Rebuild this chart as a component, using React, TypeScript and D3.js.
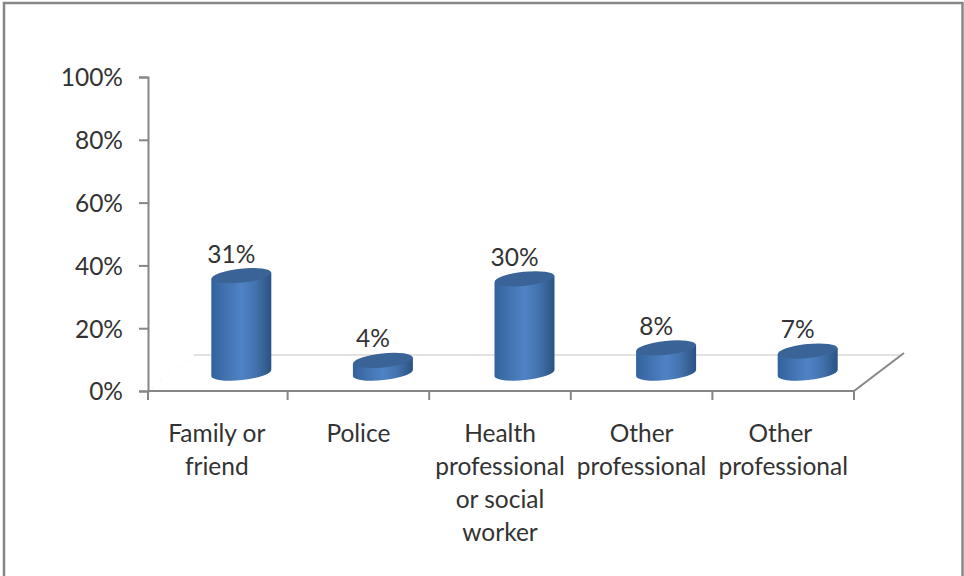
import React, { useEffect, useRef } from 'react';
import * as d3 from 'd3';

const CATEGORIES: string[][] = [
  ['Family or', 'friend'],
  ['Police'],
  ['Health', 'professional', 'or social', 'worker'],
  ['Other', 'professional'],
  ['Other ', 'professional'],
];
const VALUES = [0.31, 0.04, 0.3, 0.08, 0.07];
const Y_TICKS = [0, 0.2, 0.4, 0.6, 0.8, 1];

const WIDTH = 964;
const HEIGHT = 576;
const FONT = 'Lato, "Open Sans", sans-serif';
const AXIS = '#868686';
const TEXT = '#333333';
const FONT_SIZE = 24.5;

const App: React.FC = () => {
  const chartRef = useRef<SVGSVGElement>(null);

  useEffect(() => {
    if (!chartRef.current) return;

    // Clear previous render
    d3.select(chartRef.current).selectAll('*').remove();
    const svg = d3.select(chartRef.current);

    const x = d3.scaleBand<number>().domain(d3.range(VALUES.length)).range([146, 854]);
    const y = d3.scaleLinear().domain([0, 1]).range([391, 77]);

    // Cylinder gradient
    const grad = svg.append('defs').append('linearGradient').attr('id', 'cyl');
    [
      ['0%', '#33639c'],
      ['25%', '#4373b0'],
      ['50%', '#4f83c6'],
      ['72%', '#4474b0'],
      ['100%', '#2a5383'],
    ].forEach(([offset, color]) => {
      grad.append('stop').attr('offset', offset).attr('stop-color', color);
    });

    // Frame
    svg.append('rect')
      .attr('x', 4).attr('y', 3)
      .attr('width', 958.5).attr('height', 600)
      .attr('fill', '#fff')
      .attr('stroke', AXIS).attr('stroke-width', 2.5);

    // Floor of the 3D plot
    const axisX = 148;
    const x1 = x.range()[1];
    const depthX = 46;
    const depthY = -36;
    svg.append('line')
      .attr('x1', axisX + depthX).attr('x2', x1 + depthX)
      .attr('y1', y(0) + depthY).attr('y2', y(0) + depthY)
      .attr('stroke', '#d9d9d9').attr('stroke-width', 1.5);
    svg.append('line')
      .attr('x1', axisX + 4).attr('x2', axisX + depthX)
      .attr('y1', y(0) - 3).attr('y2', y(0) + depthY)
      .attr('stroke', '#e4e4e4').attr('stroke-width', 1)
      .attr('stroke-dasharray', '1 10');
    svg.append('line')
      .attr('x1', x1).attr('x2', x1 + depthX + 4)
      .attr('y1', y(0)).attr('y2', y(0) + depthY - 2)
      .attr('stroke', AXIS).attr('stroke-width', 2);

    // Y axis
    const yAxis = svg.append('g')
      .attr('transform', `translate(${axisX},0)`)
      .call(d3.axisLeft(y).tickValues(Y_TICKS).tickSize(9).tickPadding(16).tickFormat(d3.format('.0%')));
    yAxis.selectAll('path, line').attr('stroke', AXIS).attr('stroke-width', 2);
    yAxis.selectAll('text')
      .attr('fill', TEXT)
      .style('font', `${FONT_SIZE}px ${FONT}`)
      .attr('dy', '0.36em');

    // X axis
    svg.append('line')
      .attr('x1', axisX).attr('x2', x1)
      .attr('y1', y(0)).attr('y2', y(0))
      .attr('stroke', AXIS).attr('stroke-width', 2);
    svg.append('g')
      .selectAll('line')
      .data([axisX, ...x.domain().slice(1).map(d => x(d) as number), x1])
      .enter()
      .append('line')
      .attr('x1', d => d).attr('x2', d => d)
      .attr('y1', y(0)).attr('y2', y(0) + 9)
      .attr('stroke', AXIS).attr('stroke-width', 2);

    // Category labels
    const labels = svg.append('g')
      .selectAll('text')
      .data(CATEGORIES)
      .enter()
      .append('text')
      .attr('text-anchor', 'middle')
      .attr('fill', TEXT)
      .style('font', `${FONT_SIZE}px ${FONT}`);
    labels.selectAll('tspan')
      .data((d, i) => d.map(t => ({ t, i })))
      .enter()
      .append('tspan')
      .attr('x', d => (x(d.i) as number) + x.bandwidth() / 2)
      .attr('y', (d, j) => 442 + j * 33)
      .text(d => d.t);

    // Cylinders
    const rx = 30;
    const ry = 7;
    const tilt = -6;
    const baseOffset = 18;
    const shiftX = 24.5;
    const slant = rx * Math.sin((-tilt * Math.PI) / 180);

    const bars = svg.append('g')
      .selectAll('g')
      .data(VALUES)
      .enter()
      .append('g')
      .attr('transform', (d, i) => `translate(${(x(i) as number) + x.bandwidth() / 2 + shiftX},0)`);

    bars.append('path')
      .attr('fill', 'url(#cyl)')
      .attr('d', d => {
        const top = y(d) - baseOffset;
        const bottom = y(0) - baseOffset;
        return `M${-rx},${top + slant} L${-rx},${bottom + slant}`
          + ` A${rx},${ry} ${tilt} 0 0 ${rx},${bottom - slant}`
          + ` L${rx},${top - slant} Z`;
      });

    bars.append('ellipse')
      .attr('rx', rx)
      .attr('ry', ry)
      .attr('fill', '#3a6497')
      .attr('transform', d => `translate(0,${y(d) - baseOffset}) rotate(${tilt})`);

    bars.append('text')
      .attr('x', -10)
      .attr('y', d => y(d) - baseOffset - 13)
      .attr('text-anchor', 'middle')
      .attr('fill', TEXT)
      .style('font', `${FONT_SIZE}px ${FONT}`)
      .text(d => d3.format('.0%')(d));
  }, []);

  return (
    <svg
      ref={chartRef}
      width={WIDTH}
      height={HEIGHT}
      style={{ position: 'absolute', left: 0, top: 0 }}
    />
  );
};

export default App;
